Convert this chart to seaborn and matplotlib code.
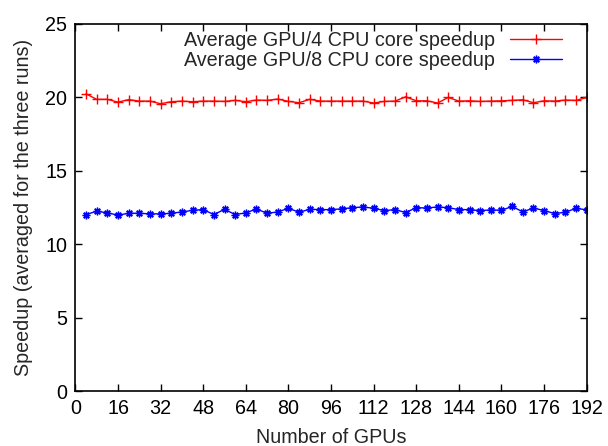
import pandas as pd
import seaborn as sns
import matplotlib.pyplot as plt

gpus = list(range(4, 193, 4))
speedup_4core = [20.22, 19.85, 19.85, 19.66, 19.83, 19.73, 19.73, 19.55, 19.69, 19.73,
                 19.69, 19.73, 19.73, 19.71, 19.78, 19.69, 19.80, 19.78, 19.87, 19.71,
                 19.62, 19.85, 19.73, 19.73, 19.73, 19.73, 19.73, 19.60, 19.71, 19.73,
                 20.02, 19.75, 19.75, 19.60, 19.98, 19.73, 19.75, 19.71, 19.73, 19.75,
                 19.78, 19.82, 19.62, 19.75, 19.73, 19.80, 19.78, 19.98]
speedup_8core = [12.01, 12.24, 12.13, 11.97, 12.10, 12.10, 12.06, 12.06, 12.10, 12.19,
                 12.30, 12.35, 12.01, 12.37, 12.01, 12.13, 12.39, 12.10, 12.19, 12.44,
                 12.17, 12.37, 12.35, 12.35, 12.40, 12.48, 12.53, 12.44, 12.28, 12.35,
                 12.15, 12.48, 12.46, 12.53, 12.48, 12.35, 12.35, 12.28, 12.33, 12.30,
                 12.57, 12.19, 12.46, 12.28, 12.08, 12.17, 12.44, 12.33]
labels = ['Average GPU/4 CPU core speedup', 'Average GPU/8 CPU core speedup']

df = pd.DataFrame({'GPUs': gpus * 2,
                   'Speedup': speedup_4core + speedup_8core,
                   'Series': [labels[0]] * len(gpus) + [labels[1]] * len(gpus)})

sns.set_style('ticks')
plt.rcParams['font.family'] = ['Liberation Sans', 'DejaVu Sans']
fs = 14.2

fig = plt.figure(figsize=(6.08, 4.46), dpi=100)
ax = fig.add_axes([0.124, 0.123, 0.841, 0.824])

colors = ['#ff0000', '#0000ff']
markers = ['+', (8, 2, 0)]
msizes = [7, 5.5]
for lab, c, m, ms in zip(labels, colors, markers, msizes):
    sns.lineplot(data=df[df['Series'] == lab], x='GPUs', y='Speedup', color=c,
                 marker=m, markersize=ms, markeredgewidth=1.0, markeredgecolor=c,
                 linewidth=1.0, label=lab, ax=ax)

ax.set_xlim(0, 192)
ax.set_ylim(0, 25)
ax.set_xticks(range(0, 193, 16))
ax.set_yticks(range(0, 26, 5))
ax.tick_params(direction='in', top=True, right=True, length=5, width=1,
               labelsize=fs, colors='black', pad=6)
for s in ax.spines.values():
    s.set_visible(True)
    s.set_linewidth(1.2)
    s.set_color('black')
ax.set_xlabel('Number of GPUs', fontsize=fs, labelpad=7)
ax.set_ylabel('Speedup (averaged for the three runs)', fontsize=fs, labelpad=9)

ax.legend(loc='upper right', bbox_to_anchor=(0.971, 1.006), frameon=False,
          markerfirst=False, handlelength=2.65, handletextpad=0.75,
          labelspacing=0.05, borderpad=0, fontsize=fs)

plt.savefig('out.png', dpi=100)
